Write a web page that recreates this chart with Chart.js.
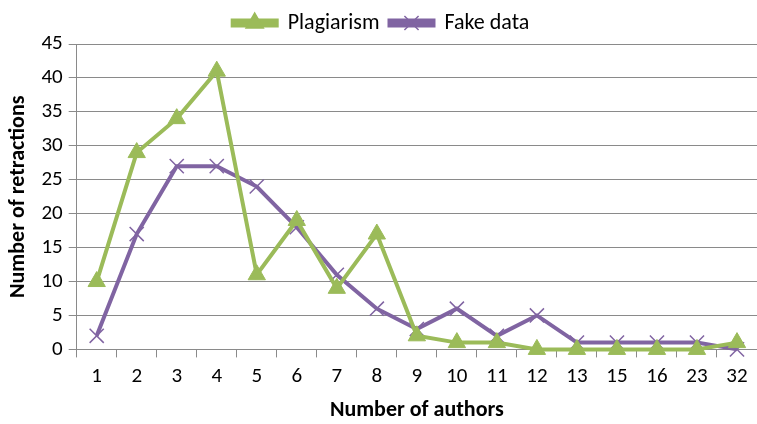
<!DOCTYPE html>
<html>
<head>
<meta charset="utf-8">
<script src="https://cdn.jsdelivr.net/npm/chart.js@4/dist/chart.umd.min.js"></script>
<style>
  html, body { margin: 0; padding: 0; background: #fff; overflow: hidden; }
  #wrap { width: 757px; height: 424px; position: relative; }
  #grafico { display: block; }
</style>
</head>
<body>
<div id="wrap"><canvas id="grafico"></canvas></div>
<script>
const autores = ['1', '2', '3', '4', '5', '6', '7', '8', '9', '10', '11', '12', '13', '15', '16', '23', '32'];
const plagio = [10, 29, 34, 41, 11, 19, 9, 17, 2, 1, 1, 0, 0, 0, 0, 0, 1];
const dadosFalsos = [2, 17, 27, 27, 24, 18, 11, 6, 3, 6, 2, 5, 1, 1, 1, 1, 0];

const VERDE = '#9bbb59';
const ROXO = '#8064a2';
const FONTE = "Carlito, 'Open Sans', sans-serif";
const TEXTO = '#000';
const GRADE = '#8a8a8a';

// desenha o marcador por cima da linha da legenda
const marcadoresLegenda = {
    id: 'marcadoresLegenda',
    afterDraw(chart) {
        const legend = chart.legend;
        if (!legend || !legend.legendHitBoxes) return;
        const ctx = chart.ctx;
        legend.legendHitBoxes.forEach((box, i) => {
            const ds = chart.data.datasets[i];
            const cx = box.left + legend.options.labels.boxWidth / 2;
            const cy = box.top + box.height / 2;
            ctx.save();
            ctx.fillStyle = ds.borderColor;
            ctx.strokeStyle = ds.borderColor;
            ctx.lineWidth = 1.5;
            Chart.helpers.drawPoint(ctx, { pointStyle: ds.pointStyle, radius: 10, borderWidth: 1.5 }, cx, cy);
            ctx.restore();
        });
    }
};

const ctx = document.getElementById('grafico').getContext('2d');
new Chart(ctx, {
    type: 'line',
    data: {
        labels: autores,
        datasets: [
            {
                label: 'Plagiarism',
                data: plagio,
                borderColor: VERDE,
                backgroundColor: VERDE,
                borderWidth: 4,
                pointStyle: 'triangle',
                pointRadius: 10,
                pointBorderWidth: 1,
                tension: 0,
                clip: false
            },
            {
                label: 'Fake data',
                data: dadosFalsos,
                borderColor: ROXO,
                backgroundColor: ROXO,
                borderWidth: 4,
                pointStyle: 'crossRot',
                pointRadius: 10,
                pointBorderWidth: 1.5,
                tension: 0,
                clip: false
            }
        ]
    },
    options: {
        responsive: true,
        maintainAspectRatio: false,
        animation: false,
        layout: { autoPadding: false, padding: { left: 5, right: 0, top: 2, bottom: 0 } },
        plugins: {
            tooltip: { enabled: false },
            legend: {
                position: 'top',
                labels: {
                    color: TEXTO,
                    font: { family: FONTE, size: 22 },
                    boxWidth: 44,
                    boxHeight: 5,
                    padding: 10
                }
            }
        },
        scales: {
            x: {
                offset: true,
                grid: {
                    offset: true,
                    drawOnChartArea: false,
                    color: GRADE,
                    tickLength: 8,
                    tickColor: GRADE
                },
                border: { color: GRADE, width: 1 },
                ticks: { color: TEXTO, font: { family: FONTE, size: 21 }, padding: 7, maxRotation: 0 },
                title: {
                    display: true,
                    text: 'Number of authors',
                    color: TEXTO,
                    font: { family: FONTE, size: 22, weight: 'bold' },
                    padding: { top: 1, bottom: 0 }
                }
            },
            y: {
                min: 0,
                max: 45,
                ticks: { stepSize: 5, color: TEXTO, font: { family: FONTE, size: 21 }, padding: 6 },
                grid: { color: GRADE, tickLength: 8, tickColor: GRADE },
                border: { color: GRADE, width: 1 },
                title: {
                    display: true,
                    text: 'Number of retractions',
                    color: TEXTO,
                    font: { family: FONTE, size: 22, weight: 'bold' },
                    padding: { top: 0, bottom: 4 }
                }
            }
        }
    },
    plugins: [marcadoresLegenda]
});
</script>
</body>
</html>
